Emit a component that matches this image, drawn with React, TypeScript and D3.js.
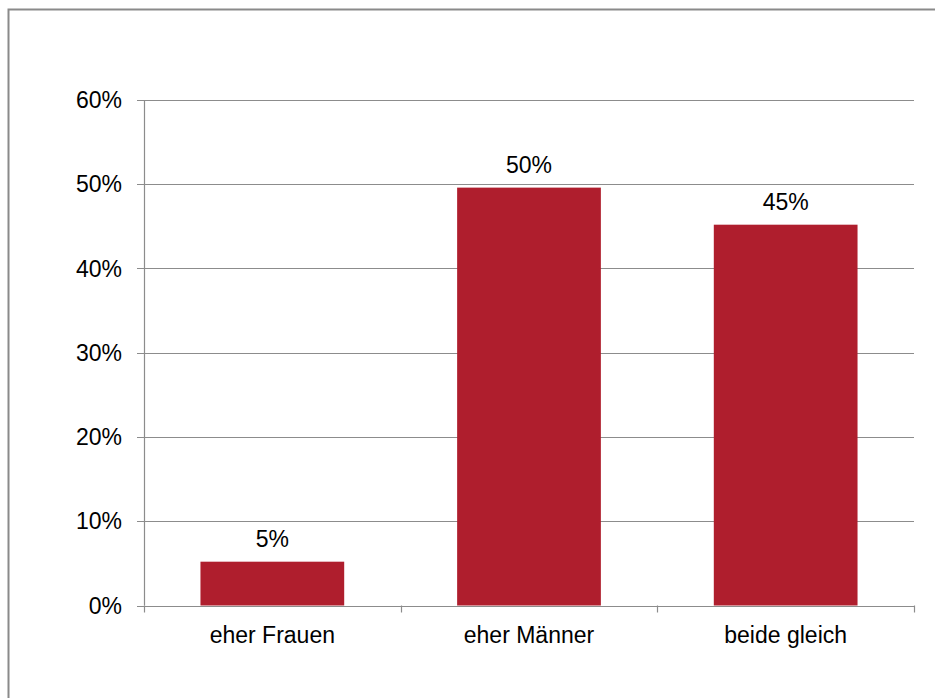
import React from "react";
import * as d3 from "d3";

const categories = ["eher Frauen", "eher Männer", "beide gleich"];
const values = [0.052, 0.496, 0.452];
const valueLabels = ["5%", "50%", "45%"];
const yTicks = [0, 0.1, 0.2, 0.3, 0.4, 0.5, 0.6];

const W = 935;
const H = 698;
const left = 144;
const right = 914;
const top = 100;
const bottom = 605.5;
const font = "'Liberation Sans', Arial, sans-serif";
const fs = 23;

export default function App() {
  const x = d3.scaleBand().domain(categories).range([left, right]).paddingInner(0.44).paddingOuter(0.22);
  const y = d3.scaleLinear().domain([0, 0.6]).range([bottom, top]);
  const fmt = d3.format(".0%");
  const catEdges = d3.range(categories.length + 1).map((i) => left + (i * (right - left)) / categories.length);
  return (
    <svg width={W} height={H} style={{ position: "absolute", left: 0, top: 0 }}>
      <rect x={0} y={0} width={W} height={H} fill="#fff" />
      <path d={`M8.5,${H + 5}V9.5H${W + 5}`} fill="none" stroke="#8a8a8a" strokeWidth={2} />
      {yTicks.map((t) => (
        <g key={t}>
          <line x1={left - 7} x2={right} y1={Math.round(y(t)) + 0.5} y2={Math.round(y(t)) + 0.5} stroke="#8c8c8c" strokeWidth={1.2} />
          <text x={122} y={y(t)} dy="0.35em" textAnchor="end" fontFamily={font} fontSize={fs} fill="#000">
            {fmt(t)}
          </text>
        </g>
      ))}
      <line x1={left + 0.5} x2={left + 0.5} y1={top} y2={bottom} stroke="#8c8c8c" strokeWidth={1.2} />
      {catEdges.map((e, i) => (
        <line key={i} x1={Math.round(e) + 0.5} x2={Math.round(e) + 0.5} y1={bottom} y2={bottom + 7} stroke="#8c8c8c" strokeWidth={1.2} />
      ))}
      {categories.map((c, i) => (
        <g key={c}>
          <rect x={x(c)} y={y(values[i])} width={x.bandwidth()} height={bottom - y(values[i])} fill="#af1e2d" />
          <text x={x(c)! + x.bandwidth() / 2} y={y(values[i]) - 15} textAnchor="middle" fontFamily={font} fontSize={fs} fill="#000">
            {valueLabels[i]}
          </text>
          <text x={x(c)! + x.bandwidth() / 2} y={635} dy="0.35em" textAnchor="middle" fontFamily={font} fontSize={fs} fill="#000">
            {c}
          </text>
        </g>
      ))}
    </svg>
  );
}
